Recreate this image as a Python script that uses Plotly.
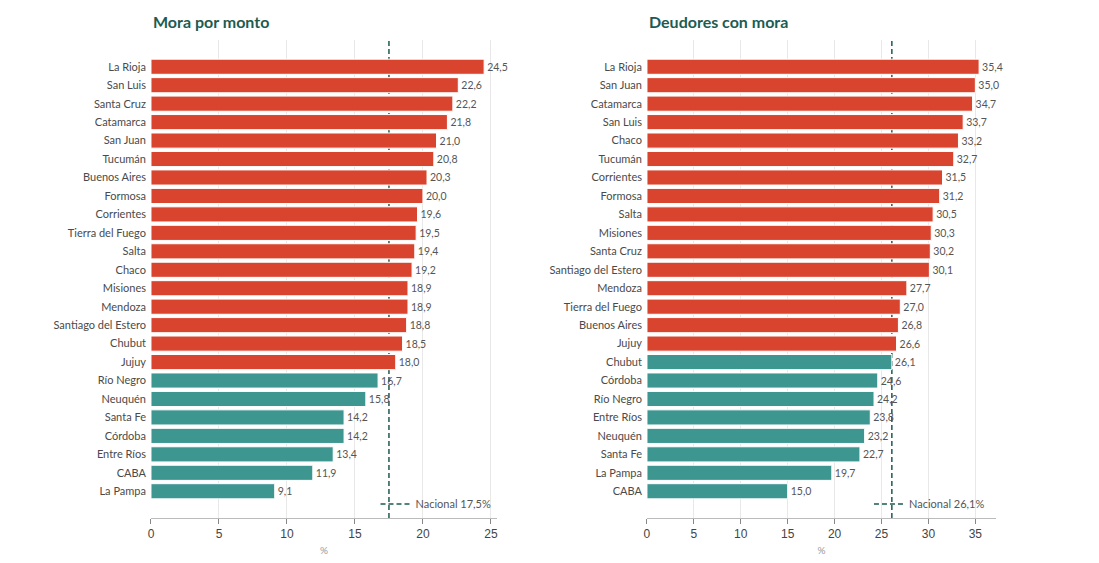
import plotly.graph_objects as go

# Mora por monto (%)
prov_monto = ["La Rioja", "San Luis", "Santa Cruz", "Catamarca", "San Juan", "Tucumán",
              "Buenos Aires", "Formosa", "Corrientes", "Tierra del Fuego", "Salta", "Chaco",
              "Misiones", "Mendoza", "Santiago del Estero", "Chubut", "Jujuy", "Río Negro",
              "Neuquén", "Santa Fe", "Córdoba", "Entre Ríos", "CABA", "La Pampa"]
val_monto = [24.5, 22.6, 22.2, 21.8, 21.0, 20.8, 20.3, 20.0, 19.6, 19.5, 19.4, 19.2,
             18.9, 18.9, 18.8, 18.5, 18.0, 16.7, 15.8, 14.2, 14.2, 13.4, 11.9, 9.1]
nac_monto = 17.5

# Deudores con mora (%)
prov_deud = ["La Rioja", "San Juan", "Catamarca", "San Luis", "Chaco", "Tucumán",
             "Corrientes", "Formosa", "Salta", "Misiones", "Santa Cruz", "Santiago del Estero",
             "Mendoza", "Tierra del Fuego", "Buenos Aires", "Jujuy", "Chubut", "Córdoba",
             "Río Negro", "Entre Ríos", "Neuquén", "Santa Fe", "La Pampa", "CABA"]
val_deud = [35.4, 35.0, 34.7, 33.7, 33.2, 32.7, 31.5, 31.2, 30.5, 30.3, 30.2, 30.1,
            27.7, 27.0, 26.8, 26.6, 26.1, 24.6, 24.2, 23.8, 23.2, 22.7, 19.7, 15.0]
nac_deud = 26.1

RED = "#d9442f"
TEAL = "#3d9690"
DARK = "#1d5b52"
FONT = "Lato, sans-serif"

fig = go.Figure()

panels = [
    (prov_monto, val_monto, nac_monto, "x", "y", "legend"),
    (prov_deud, val_deud, nac_deud, "x2", "y2", "legend2"),
]

for provs, vals, nac, xa, ya, leg in panels:
    colors = [RED if v > nac else TEAL for v in vals]
    fig.add_trace(go.Bar(
        x=vals, y=provs, orientation="h", xaxis=xa, yaxis=ya,
        marker=dict(color=colors, line=dict(color="white", width=1)),
        texttemplate="%{x:.1f}", textposition="outside", cliponaxis=False,
        textfont=dict(family=FONT, size=10.5, color="#555555"),
        showlegend=False, hoverinfo="y+x",
    ))
    fig.add_shape(
        type="line", xref=xa, yref=ya + " domain", x0=nac, x1=nac, y0=0, y1=1,
        line=dict(color=DARK, width=1.5, dash="5px,3px"), layer="below",
        showlegend=True, legend=leg,
        name="Nacional " + f"{nac:.1f}".replace(".", ",") + "%",
    )

common_x = dict(
    automargin=False,
    showgrid=True, gridcolor="#e8e8e8", gridwidth=1, zeroline=False,
    showline=True, linecolor="#bbbbbb", linewidth=1,
    ticks="outside", ticklen=5, tickcolor="#888888", dtick=5,
    tickfont=dict(family="Liberation Sans, Arial, sans-serif", size=12, color="#444444"),
    title=dict(text="%", font=dict(family=FONT, size=10, color="#999999"), standoff=6),
)
common_y = dict(
    automargin=False,
    type="category", showgrid=False, zeroline=False, showline=False,
    ticks="", ticklabelstandoff=4,
    tickfont=dict(family=FONT, size=11, color="#4a4a4a"),
    range=[24.45, -1.45],
)

fig.update_layout(
    width=1099, height=563,
    paper_bgcolor="white", plot_bgcolor="white",
    margin=dict(l=0, r=0, t=0, b=0),
    separators=",.",
    bargap=0.18,
    xaxis=dict(common_x, domain=[0.1301, 0.4450], range=[0, 25.45], anchor="y"),
    yaxis=dict(common_y, domain=[0.0941, 0.9432], anchor="x",
               categoryorder="array", categoryarray=prov_monto),
    xaxis2=dict(common_x, domain=[0.5814, 0.8990], range=[0, 37.2], anchor="y2"),
    yaxis2=dict(common_y, domain=[0.0941, 0.9432], anchor="x2",
                categoryorder="array", categoryarray=prov_deud),
    legend=dict(x=0.4445, xanchor="right", y=0.119, yanchor="middle",
                bgcolor="rgba(0,0,0,0)", itemwidth=30,
                font=dict(family=FONT, size=11, color="#555555")),
    legend2=dict(x=0.8935, xanchor="right", y=0.119, yanchor="middle",
                 bgcolor="rgba(0,0,0,0)", itemwidth=30,
                 font=dict(family=FONT, size=11, color="#555555")),
    annotations=[
        dict(text="<b>Mora por monto</b>", xref="paper", yref="paper",
             x=0.1301, y=0.976, xanchor="left", yanchor="middle", showarrow=False,
             font=dict(family=FONT, size=16, color=DARK)),
        dict(text="<b>Deudores con mora</b>", xref="paper", yref="paper",
             x=0.5814, y=0.976, xanchor="left", yanchor="middle", showarrow=False,
             font=dict(family=FONT, size=16, color=DARK)),
    ],
)

fig.write_html("out.html")
